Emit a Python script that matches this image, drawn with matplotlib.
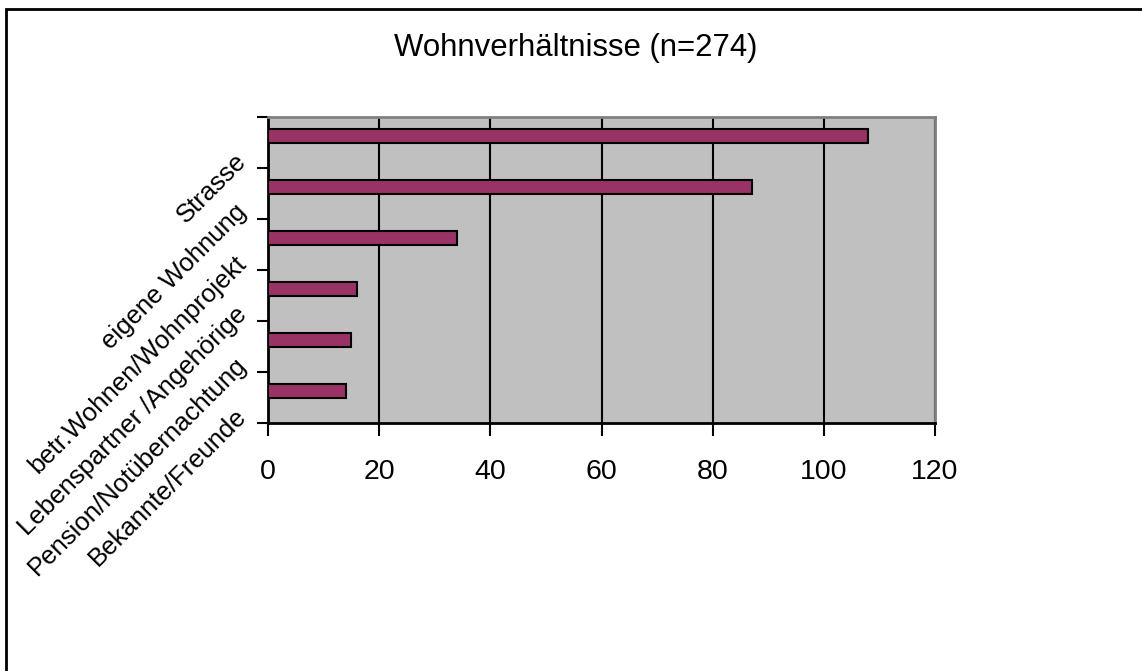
import matplotlib
matplotlib.use('Agg')
import matplotlib.pyplot as plt
import matplotlib.patches as patches
from matplotlib.transforms import ScaledTranslation

plt.rcParams['font.family'] = ['Liberation Sans', 'DejaVu Sans']

# Daten
kategorien = ['Strasse', 'eigene Wohnung', 'betr.Wohnen/Wohnprojekt',
              'Lebenspartner /Angehörige', 'Pension/Notübernachtung',
              'Bekannte/Freunde']
anzahl = [108, 87, 34, 16, 15, 14]
x_ticks = [0, 20, 40, 60, 80, 100, 120]

fig = plt.figure(figsize=(11.42, 6.71), dpi=100)
ax = fig.add_axes([268/1142, 1-423/671, (935-268)/1142, (423-117)/671])
ax.set_facecolor('#C0C0C0')

pos = list(range(len(kategorien)))
ax.barh([p - 0.13 for p in pos], anzahl, height=0.27, color='#993366',
        edgecolor='black', linewidth=1.5, zorder=3)

ax.set_xlim(0, 120)
ax.set_ylim(5.5, -0.5)
ax.set_xticks(x_ticks)
ax.set_xticklabels([str(t) for t in x_ticks], fontsize=20.5)
ax.tick_params(axis='x', length=9, width=1.5, pad=17, direction='out')
ax.grid(axis='x', color='black', linewidth=1.5, zorder=1)
ax.set_axisbelow(True)

# Ticks an den Kategoriegrenzen, Beschriftung dazwischen
ax.set_yticks([p - 0.5 for p in pos] + [5.5])
ax.set_yticklabels([])
ax.tick_params(axis='y', which='major', length=8, width=1.5, direction='out')
ax.set_yticks(pos, minor=True)
ax.set_yticklabels(kategorien, minor=True, fontsize=18.5, rotation=45,
                   ha='right', va='center', rotation_mode='anchor')
ax.tick_params(axis='y', which='minor', length=0, pad=18)
shift = ScaledTranslation(0, -0.15, fig.dpi_scale_trans)
for lab in ax.get_yticklabels(minor=True):
    lab.set_transform(lab.get_transform() + shift)

for s in ['left', 'bottom']:
    ax.spines[s].set_color('black')
    ax.spines[s].set_linewidth(2)
for s in ['top', 'right']:
    ax.spines[s].set_color('#808080')
    ax.spines[s].set_linewidth(2)

fig.text(576/1142, 1-56/671, 'Wohnverhältnisse (n=274)', fontsize=22.4,
         ha='center', va='baseline')

# Rahmen
fig.patches.append(patches.Rectangle((6/1142, -0.1), 1.2, 1-9/671+0.1,
                                     transform=fig.transFigure, fill=False,
                                     edgecolor='black', linewidth=2))

fig.savefig('out.png', dpi=100)
